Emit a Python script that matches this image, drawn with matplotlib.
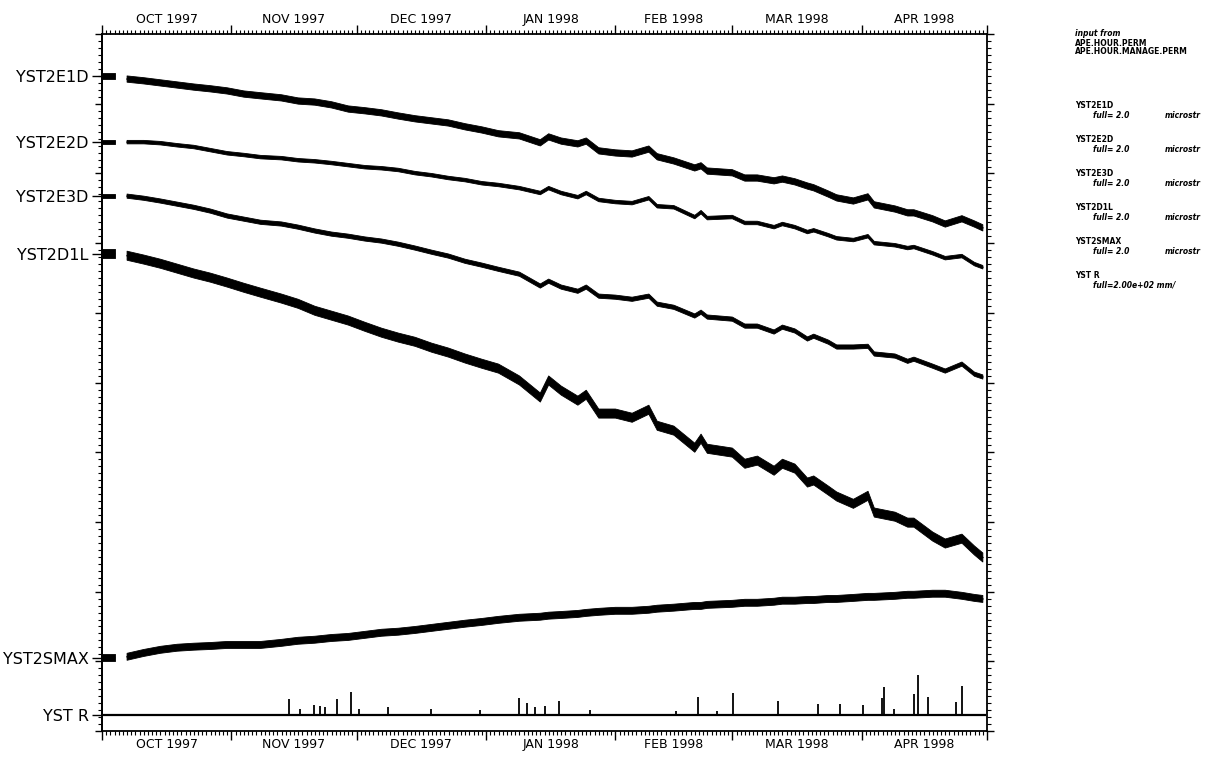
import numpy as np
import matplotlib
matplotlib.use("Agg")
import matplotlib.pyplot as plt
from matplotlib.ticker import MultipleLocator, FixedLocator, NullFormatter

# time axis: days since 1 Oct 1997
start = np.datetime64('1997-10-01')
month_starts = np.arange('1997-10', '1998-06', dtype='datetime64[M]').astype('datetime64[D]')
month_labels = ['OCT 1997', 'NOV 1997', 'DEC 1997', 'JAN 1998',
                'FEB 1998', 'MAR 1998', 'APR 1998']

# sample days (the nan column is the data gap after day 3)
days = [0, 3, 4.5,
        6, 10, 14, 18, 22, 26, 30, 34, 38, 43, 47, 51, 55, 59, 63, 67, 71, 75,
        79, 83, 87, 91,
        95, 100, 105, 107, 110, 114, 116, 119, 123, 127, 131, 133, 137, 142,
        143.5, 145, 151, 154, 157, 161, 163, 166, 169, 170.5, 174, 176, 180,
        183.5, 185, 190, 193, 194.5, 199, 202, 206, 209, 211]

names = ['YST2E1D', 'YST2E2D', 'YST2E3D', 'YST2D1L', 'YST2SMAX', 'YST R']
nan = np.nan

# strain change (microstrain) relative to the first sample
e1d = [0, 0, nan,
       -0.009, -0.014, -0.020, -0.026, -0.032, -0.037, -0.043, -0.052, -0.057,
       -0.063, -0.072, -0.075, -0.083, -0.095, -0.100, -0.106, -0.115, -0.123,
       -0.129, -0.135, -0.146, -0.155,
       -0.166, -0.172, -0.192, -0.175, -0.187, -0.195, -0.187, -0.215, -0.221,
       -0.224, -0.210, -0.232, -0.244, -0.264, -0.258, -0.273, -0.278, -0.293,
       -0.293, -0.301, -0.296, -0.304, -0.316, -0.321, -0.339, -0.350, -0.359,
       -0.347, -0.370, -0.382, -0.393, -0.393, -0.410, -0.425, -0.410, -0.425,
       -0.436]
e2d = [0, 0, nan,
       0, 0, -0.003, -0.009, -0.014, -0.023, -0.032, -0.037, -0.043, -0.046,
       -0.052, -0.055, -0.060, -0.066, -0.072, -0.075, -0.080, -0.089, -0.095,
       -0.103, -0.109, -0.118,
       -0.123, -0.132, -0.146, -0.132, -0.146, -0.158, -0.146, -0.166, -0.172,
       -0.175, -0.161, -0.184, -0.187, -0.215, -0.201, -0.218, -0.215, -0.232,
       -0.232, -0.244, -0.235, -0.244, -0.258, -0.253, -0.267, -0.276, -0.281,
       -0.270, -0.290, -0.296, -0.304, -0.301, -0.319, -0.333, -0.327, -0.350,
       -0.359]
e3d = [0, 0, nan,
       0, -0.006, -0.014, -0.023, -0.032, -0.043, -0.057, -0.066, -0.075, -0.080,
       -0.089, -0.100, -0.109, -0.115, -0.123, -0.129, -0.138, -0.149, -0.161,
       -0.172, -0.187, -0.198,
       -0.210, -0.224, -0.258, -0.244, -0.261, -0.273, -0.261, -0.287, -0.290,
       -0.296, -0.287, -0.310, -0.319, -0.344, -0.333, -0.347, -0.353, -0.373,
       -0.373, -0.390, -0.376, -0.387, -0.410, -0.402, -0.419, -0.433, -0.433,
       -0.431, -0.453, -0.459, -0.474, -0.468, -0.488, -0.502, -0.482, -0.511,
       -0.519]
d1l = [0, 0, nan,
       -0.006, -0.017, -0.029, -0.043, -0.057, -0.069, -0.083, -0.098, -0.112,
       -0.129, -0.144, -0.164, -0.178, -0.192, -0.210, -0.227, -0.241, -0.253,
       -0.270, -0.284, -0.301, -0.316,
       -0.330, -0.364, -0.413, -0.364, -0.393, -0.422, -0.405, -0.459, -0.459,
       -0.471, -0.448, -0.494, -0.508, -0.557, -0.531, -0.560, -0.571, -0.603,
       -0.594, -0.623, -0.603, -0.617, -0.657, -0.651, -0.680, -0.697, -0.718,
       -0.695, -0.743, -0.755, -0.772, -0.772, -0.812, -0.832, -0.818, -0.852,
       -0.872]
smax = [0, 0, nan,
        0.003, 0.014, 0.023, 0.029, 0.032, 0.034, 0.037, 0.037, 0.037, 0.043,
        0.049, 0.052, 0.057, 0.060, 0.066, 0.072, 0.075, 0.080, 0.086, 0.092,
        0.098, 0.103,
        0.109, 0.115, 0.118, 0.121, 0.123, 0.126, 0.129, 0.132, 0.135, 0.135,
        0.138, 0.141, 0.144, 0.149, 0.149, 0.152, 0.155, 0.158, 0.158, 0.161,
        0.164, 0.164, 0.166, 0.166, 0.169, 0.169, 0.172, 0.175, 0.175, 0.178,
        0.181, 0.181, 0.184, 0.184, 0.178, 0.172, 0.169]
# daily tidal swing (half range, microstrain)
tide = [0.009, 0.005, 0.006, 0.013, 0.010]

# rainfall spikes (mm)
rain_days = [44.8, 47.5, 50.8, 52.3, 53.5, 56.4, 59.7, 61.6, 68.6, 78.7, 90.6,
             100.0, 101.9, 103.8, 106.2, 109.4, 117.0, 137.4, 142.7, 147.2, 151.1,
             161.9, 171.5, 176.7, 182.3, 186.8, 187.3, 189.7, 194.5, 195.4, 197.8,
             204.6, 206.0]
rain_mm = [4.6, 1.7, 2.9, 2.6, 2.3, 4.6, 6.6, 1.7, 2.3, 1.7, 1.4,
           4.9, 3.4, 2.3, 2.6, 4.0, 1.4, 1.1, 5.2, 1.1, 6.3,
           4.0, 3.2, 3.2, 2.9, 4.9, 8.0, 1.7, 6.0, 11.5, 5.2,
           3.7, 8.3]

# plot offsets for each trace (full scale = 2.0)
offsets = [1.88, 1.69, 1.535, 1.37, 0.21, 0.046]

fig = plt.figure(figsize=(12.16, 7.58), dpi=100)
ax = fig.add_axes([0.0839, 0.0356, 0.7278, 0.9194])

for vals, off, hw in zip([e1d, e2d, e3d, d1l, smax], offsets, tide):
    y = off + np.array(vals, dtype=float)
    ax.fill_between(days, y - hw, y + hw, color='black', lw=0.6)
    ax.plot(days, y, color='black', lw=1.0)

# rain trace: 200 mm full scale
ax.hlines(offsets[5], 0, 211.7, color='black', lw=1.6)
ax.vlines(rain_days, offsets[5], offsets[5] + np.array(rain_mm) / 100.0,
          color='black', lw=1.3)

month_pos = (month_starts - start).astype(int)
ax.set_xlim(0, month_pos[-1])
ax.set_ylim(0, 2.0)

# x ticks: month boundaries and daily minor ticks on top and bottom
ax.xaxis.set_major_locator(FixedLocator(month_pos))
ax.xaxis.set_minor_locator(MultipleLocator(1))
ax.xaxis.set_major_formatter(NullFormatter())
ax.tick_params(axis='x', which='major', top=True, bottom=True, direction='out',
               length=6.5, width=1.0)
ax.tick_params(axis='x', which='minor', top=True, bottom=True, direction='out',
               length=2.8, width=0.8)

# y ticks
ax.yaxis.set_major_locator(MultipleLocator(0.2))
ax.yaxis.set_minor_locator(MultipleLocator(0.02))
ax.yaxis.set_major_formatter(NullFormatter())
ax.tick_params(axis='y', which='major', left=True, right=True, direction='out',
               length=5, width=1.0)
ax.tick_params(axis='y', which='minor', left=True, right=True, direction='out',
               length=3, width=0.8)

for s in ax.spines.values():
    s.set_linewidth(1.3)

# series names on the left
sec = ax.secondary_yaxis('left')
sec.set_yticks(offsets, names)
sec.tick_params(length=7.5, width=1.0, pad=2, labelsize=11.5)
sec.spines['left'].set_linewidth(1.3)

# month labels, top and bottom
mid = (month_pos[:-1] + month_pos[1:]) / 2.0
for side, pad in [('top', 6), ('bottom', 5)]:
    sx = ax.secondary_xaxis(side)
    sx.set_xticks(mid, month_labels)
    sx.tick_params(length=0, pad=pad, labelsize=9)
    sx.spines[side].set_visible(False)

# legend block on the right
lx, ix, ux = 0.884, 0.899, 0.958
fs = 5.5
fig.text(lx, 1 - 33 / 758, 'input from', fontsize=fs, style='italic',
         weight='bold', va='center')
fig.text(lx, 1 - 43 / 758, 'APE.HOUR.PERM', fontsize=fs, weight='bold', va='center')
fig.text(lx, 1 - 52 / 758, 'APE.HOUR.MANAGE.PERM', fontsize=fs, weight='bold',
         va='center')
for i, nm in enumerate(names):
    yp = 105 + 34 * i
    fig.text(lx, 1 - yp / 758, nm, fontsize=fs, weight='bold', va='center')
    if nm == 'YST R':
        fig.text(ix, 1 - (yp + 10) / 758, 'full=2.00e+02 mm/', fontsize=fs,
                 style='italic', weight='bold', va='center')
    else:
        fig.text(ix, 1 - (yp + 10) / 758, 'full= 2.0', fontsize=fs,
                 style='italic', weight='bold', va='center')
        fig.text(ux, 1 - (yp + 10) / 758, 'microstr', fontsize=fs,
                 style='italic', weight='bold', va='center')

fig.savefig('out.png', dpi=100)
